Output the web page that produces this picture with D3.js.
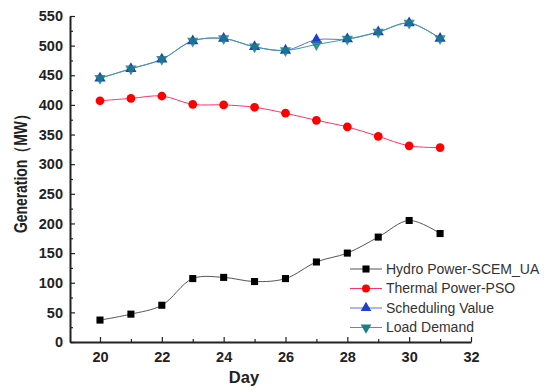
<!DOCTYPE html>
<html>
<head>
<meta charset="utf-8">
<script src="https://cdn.jsdelivr.net/npm/d3@7"></script>
<style>
  body { margin: 0; background: #fff; }
  text { font-family: "Liberation Sans", Arial, sans-serif; }
</style>
</head>
<body>
<script>
// days and generation values
var days = [20, 21, 22, 23, 24, 25, 26, 27, 28, 29, 30, 31];
var hydro = [37, 47, 62, 107, 109, 102, 107, 135, 150, 177, 205, 183];
var thermal = [407, 411, 415, 401, 400, 396, 386, 374, 363, 347, 331, 328];
var scheduling = [445, 461, 477, 508, 512, 498, 492, 510, 511, 523, 538, 512];
var load = [445, 461, 477, 508, 512, 498, 492, 502, 511, 523, 538, 512];
var xTicks = [20, 22, 24, 26, 28, 30, 32];
var yTicks = [0, 50, 100, 150, 200, 250, 300, 350, 400, 450, 500, 550];
var names = ["Hydro Power-SCEM_UA", "Thermal Power-PSO", "Scheduling Value", "Load Demand"];

var width = 547;
var height = 392;
var margin = {top: 16, right: 76, bottom: 50, left: 70};

var svg = d3.select("body")
  .append("svg")
  .attr("width", width)
  .attr("height", height);

var w = width - margin.left - margin.right;
var h = height - margin.top - margin.bottom;

var g = svg.append("g")
  .attr("transform", "translate(" + margin.left + "," + margin.top + ")");

var x = d3.scaleLinear().domain([19.03, 32]).range([0, w]);
var y = d3.scaleLinear().domain([0, 550]).range([h, 0]);

// minor ticks first
g.append("g")
  .attr("transform", "translate(0," + h + ")")
  .call(d3.axisBottom(x).tickValues(d3.range(21, 32, 2)).tickSize(-3).tickFormat(""))
  .call(function(a) { a.select(".domain").remove(); });
g.append("g")
  .call(d3.axisLeft(y).tickValues(d3.range(25, 550, 50)).tickSize(-3).tickFormat(""))
  .call(function(a) { a.select(".domain").remove(); });

var xAxis = g.append("g")
  .attr("transform", "translate(0," + h + ")")
  .call(d3.axisBottom(x).tickValues(xTicks).tickSize(-5).tickSizeOuter(0).tickPadding(10));

var yAxis = g.append("g")
  .call(d3.axisLeft(y).tickValues(yTicks).tickSize(-5).tickSizeOuter(0).tickPadding(7));

g.selectAll(".tick line").attr("stroke", "#222").attr("stroke-width", 1.2);
g.selectAll(".domain").attr("stroke", "#222").attr("stroke-width", 2);
g.selectAll(".tick text")
  .attr("fill", "#222")
  .style("font-size", "14.5px")
  .style("font-weight", "bold");

g.append("text")
  .attr("x", 244 - margin.left)
  .attr("y", h + 41)
  .attr("text-anchor", "middle")
  .attr("fill", "#222")
  .style("font-size", "16.5px")
  .style("font-weight", "bold")
  .text("Day");

g.append("text")
  .attr("transform", "translate(-43," + y(290) + ") rotate(-90)")
  .attr("text-anchor", "middle")
  .attr("fill", "#222")
  .attr("textLength", 126)
  .attr("lengthAdjust", "spacingAndGlyphs")
  .style("font-size", "18px")
  .style("font-weight", "bold")
  .text("Generation（MW）");

var series = [
  {vals: hydro, line: "#555", mark: "#000", shape: d3.symbolSquare},
  {vals: thermal, line: "#f36", mark: "#f00", shape: d3.symbolCircle},
  {vals: scheduling, line: "#5b6fe0", mark: "#1f3fd0", shape: d3.symbolTriangle},
  {vals: load, line: "#3aa0a0", mark: "#1a7f85", shape: "down"}
];

var line = d3.line()
  .x(function(d, i) { return x(days[i]); })
  .y(function(d) { return y(d); })
  .curve(d3.curveCatmullRom.alpha(0.5));

function marker(sel, s, size) {
  if (s.shape === "down") {
    sel.attr("d", d3.symbol().type(d3.symbolTriangle).size(size)())
      .attr("transform", function() { return d3.select(this).attr("transform") + " rotate(180)"; });
  } else {
    sel.attr("d", d3.symbol().type(s.shape).size(size)());
  }
}

series.forEach(function(s) {
  g.append("path")
    .datum(s.vals)
    .attr("fill", "none")
    .attr("stroke", s.line)
    .attr("stroke-width", 1)
    .attr("d", line);
});

series.forEach(function(s) {
  var size = s.shape === d3.symbolCircle ? 60 : (s.shape === d3.symbolSquare ? 50 : 55);
  g.selectAll(null)
    .data(s.vals)
    .enter()
    .append("path")
    .attr("fill", s.mark)
    .attr("opacity", s.shape === "down" ? 0.85 : 1)
    .attr("transform", function(d, i) { return "translate(" + x(days[i]) + "," + y(d) + ")"; })
    .call(marker, s, size);
});

// legend
var legend = g.append("g")
  .attr("transform", "translate(" + (350 - margin.left) + "," + (y(0) - 73) + ")");

series.forEach(function(s, i) {
  var row = legend.append("g").attr("transform", "translate(0," + (i * 19.5) + ")");
  row.append("line")
    .attr("x1", 0).attr("x2", 32)
    .attr("stroke", s.line)
    .attr("stroke-width", 1);
  row.append("path")
    .attr("fill", s.mark)
    .attr("transform", "translate(16,0)")
    .call(marker, s, 50);
  row.append("text")
    .attr("x", 36)
    .attr("dy", "0.35em")
    .attr("fill", "#333")
    .style("font-size", "14px")
    .text(names[i]);
});
</script>
</body>
</html>
